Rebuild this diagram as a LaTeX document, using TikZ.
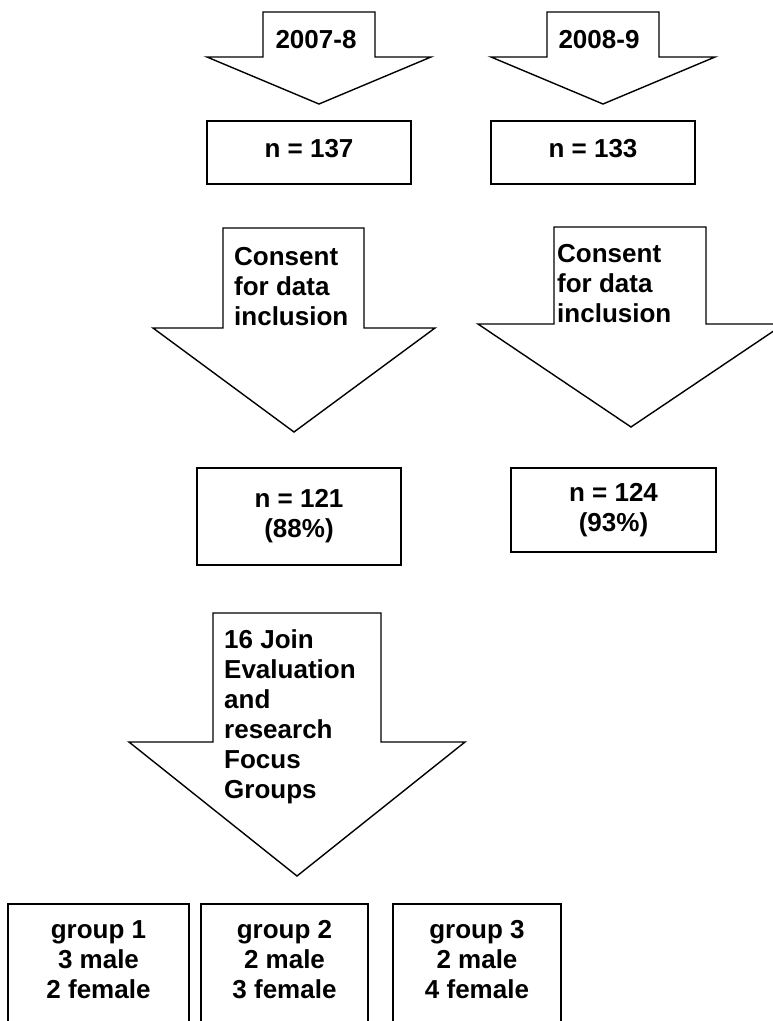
\documentclass[tikz,border=0pt]{standalone}
\usepackage{fontspec}
\setmainfont{Liberation Sans}
\begin{document}
\begin{tikzpicture}[x=1pt,y=-1pt,
  fatarrow/.style={draw, line width=1.4pt, line join=miter, fill=white},
  txt/.style={inner sep=0pt, font=\bfseries\fontsize{26}{30}\selectfont},
  box/.style={draw, line width=1.8pt, inner sep=0pt, align=center, txt},
  gbox/.style={draw, line width=1.8pt, inner sep=0pt, anchor=north, minimum height=160pt}]
\useasboundingbox (0,0) rectangle (773,1021);
% year arrows
\draw[fatarrow] (263,12) -- (375,12) -- (375,57) -- (431,57) -- (319,104) -- (207,57) -- (263,57) -- cycle;
\node[txt, anchor=base] (y1) at (316,48) {2007-8};
\draw[fatarrow] (547,12) -- (659,12) -- (659,57) -- (715,57) -- (603,104) -- (491,57) -- (547,57) -- cycle;
\node[txt, anchor=base] (y2) at (599,48) {2008-9};
% first boxes
\node[box, minimum width=204pt, minimum height=63pt, text depth=8pt] (n1) at (309,152.5) {n = 137};
\node[box, minimum width=204pt, minimum height=63pt, text depth=8pt] (n2) at (593,152.5) {n = 133};
% consent arrows
\draw[fatarrow] (223,228) -- (364,228) -- (364,328) -- (435,328) -- (294,432) -- (153,328) -- (223,328) -- cycle;
\node[txt, anchor=base west, align=left] (c1) at (234,325) {Consent\\for data\\inclusion};
\draw[fatarrow] (554,227) -- (706,227) -- (706,324) -- (784,324) -- (631,427) -- (478,324) -- (554,324) -- cycle;
\node[txt, anchor=base west, align=left] (c2) at (557,322) {Consent\\for data\\inclusion};
% second boxes
\node[box, minimum width=204pt, minimum height=97pt] (m1) at (299,516.5) {n = 121\\(88\%)};
\node[box, minimum width=205pt, minimum height=84pt] (m2) at (613.5,510) {n = 124\\(93\%)};
% focus group arrow
\draw[fatarrow] (213,613) -- (381,613) -- (381,742) -- (465,742) -- (297,876) -- (129,742) -- (213,742) -- cycle;
\node[txt, anchor=base west, align=left] (f) at (224,798) {16 Join\\Evaluation\\and\\research\\Focus\\Groups};
% group boxes
\node[gbox, minimum width=181pt] (g1) at (98.5,903) {};
\node[gbox, minimum width=167pt] (g2) at (284.5,903) {};
\node[gbox, minimum width=168pt] (g3) at (477,903) {};
\node[txt, anchor=base, align=center] (g1t) at (98.5,998) {group 1\\3 male\\2 female};
\node[txt, anchor=base, align=center] (g2t) at (284.5,998) {group 2\\2 male\\3 female};
\node[txt, anchor=base, align=center] (g3t) at (477,998) {group 3\\2 male\\4 female};
\end{tikzpicture}
\end{document}
